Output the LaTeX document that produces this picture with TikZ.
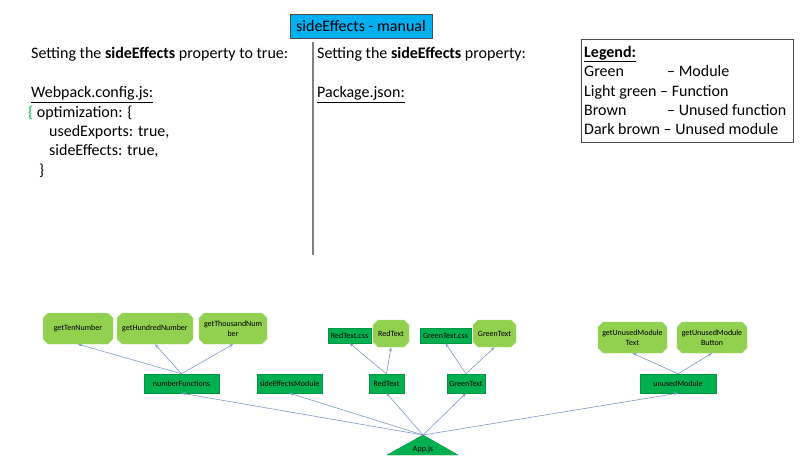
\documentclass[tikz,border=0pt]{standalone}
\usepackage{fontspec}
\setmainfont{Carlito}
\usetikzlibrary{shapes.misc,arrows.meta}
\definecolor{modgreen}{HTML}{00B050}
\definecolor{fungreen}{HTML}{92D050}
\definecolor{titlecyan}{HTML}{00B0F0}
\definecolor{arrowblue}{RGB}{125,155,200}
\begin{document}
\begin{tikzpicture}[x=1pt,y=-1pt,
  mod/.style={draw=modgreen!85!black, fill=modgreen, font=\fontsize{8}{9.6}\selectfont,
    inner sep=0pt, minimum height=19pt, line width=0.4pt},
  cssbox/.style={mod, minimum height=15pt},
  func/.style={chamfered rectangle, chamfered rectangle xsep=2.5pt, chamfered rectangle ysep=2.5pt,
    draw=fungreen!70!white, fill=fungreen, font=\fontsize{8}{9.6}\selectfont, align=center,
    inner sep=0pt, minimum height=31pt, line width=0.4pt},
  arr/.style={draw=arrowblue, line width=0.6pt, -{Stealth[length=4pt,width=3pt]}},
  txt/.style={anchor=base west, inner sep=0pt, font=\fontsize{16}{19}\selectfont}]
\useasboundingbox (0,0) rectangle (800,457);
\fill[white] (0,0) rectangle (800,457);

% title
\node[draw=black!70, fill=titlecyan, minimum width=142pt, minimum height=24pt, inner sep=0pt,
  font=\fontsize{16}{19}\selectfont] (title) at (361,26) {sideEffects - manual};

% divider
\draw[gray, line width=1.2pt] (313,42) -- (313,255);

% left column
\node[txt] (l1) at (31,58.5) {Setting the \textbf{sideEffects} property to true:};
\node[txt] (l2) at (31,98) {\underline{Webpack.config.js:}};
\node[txt] (l3) at (28,117.5) {{\color{modgreen}\{} optimization: \{};
\node[txt] (l4) at (49,137) {usedExports: true,};
\node[txt] (l5) at (49,156) {sideEffects: true,};
\node[txt] (l6) at (39,176) {\}};

% right column
\node[txt] (r1) at (317,58.5) {Setting the \textbf{sideEffects} property:};
\node[txt] (r2) at (317,98) {\underline{Package.json:}};

% legend
\draw[black!70, line width=0.8pt] (581,39) rectangle (793,142);
\node[txt] (g0) at (584,57.5) {\underline{\textbf{Legend:}}};
\node[txt] (g1) at (584,77) {Green};
\node[txt] (g1b) at (667,77) {– Module};
\node[txt] (g2) at (584,96.5) {Light green – Function};
\node[txt] (g3) at (584,116) {Brown};
\node[txt] (g3b) at (667,116) {– Unused function};
\node[txt] (g4) at (584,135) {Dark brown – Unused module};

% function nodes
\node[func, minimum width=70pt] (ten) at (78,328.5) {getTenNumber};
\node[func, minimum width=76pt] (hund) at (155,328.5) {getHundredNumber};
\node[func, minimum width=68pt] (thou) at (233,328.5) {getThousandNum\\ber};
\node[cssbox, minimum width=43pt] (rcss) at (349.5,335.5) {RedText.css};
\node[func, minimum width=36pt, minimum height=27pt] (rtf) at (391,333.5) {RedText};
\node[cssbox, minimum width=51pt] (gcss) at (445.5,335.5) {GreenText.css};
\node[func, minimum width=43pt, minimum height=27pt] (gtf) at (494.5,333.5) {GreenText};
\node[func, minimum width=69pt] (umt) at (632.5,337.5) {getUnusedModule\\Text};
\node[func, minimum width=70pt] (umb) at (712,337.5) {getUnusedModule\\Button};

% module nodes
\node[mod, minimum width=75pt] (nf) at (181.5,383.5) {numberFunctions};
\node[mod, minimum width=65pt] (sem) at (289.5,383.5) {sideEffectsModule};
\node[mod, minimum width=35pt] (rt) at (386.5,383.5) {RedText};
\node[mod, minimum width=38pt] (gt) at (466,383.5) {GreenText};
\node[mod, minimum width=76pt] (um) at (678,383.5) {unusedModule};

% App.js
\coordinate (apex) at (423,435);
\coordinate (bl) at (387,455);
\coordinate (br) at (458,455);
\filldraw[fill=modgreen, draw=modgreen!85!black, line width=0.4pt] (bl) -- (apex) -- (br) -- cycle;
\node[font=\fontsize{8}{9.6}\selectfont, inner sep=0pt] (app) at (423,449) {App.js};

% connectors
\draw[arr] (nf.north) -- (ten.south);
\draw[arr] (nf.north) -- (hund.south);
\draw[arr] (nf.north) -- (thou.south);
\draw[arr] (rt.north) -- (rcss.south);
\draw[arr] (rt.north) -- (rtf.south);
\draw[arr] (gt.north) -- (gcss.south);
\draw[arr] (gt.north) -- (gtf.south);
\draw[arr] (um.north) -- (umt.south);
\draw[arr] (um.north) -- (umb.south);
\draw[arr] (apex) -- (nf.south);
\draw[arr] (apex) -- (sem.south);
\draw[arr] (apex) -- (rt.south);
\draw[arr] (apex) -- (gt.south);
\draw[arr] (apex) -- (um.south);
\end{tikzpicture}
\end{document}
